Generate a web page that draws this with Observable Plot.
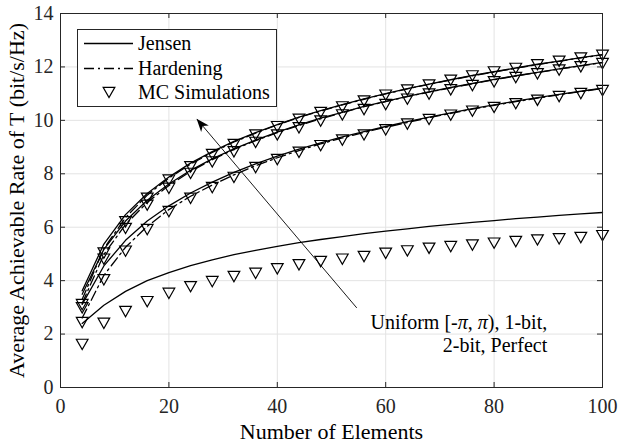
<!DOCTYPE html>
<html><head><meta charset="utf-8">
<script src="https://cdn.jsdelivr.net/npm/d3@7"></script>
<script src="https://cdn.jsdelivr.net/npm/@observablehq/plot@0.6"></script>
<style>
body{margin:0;background:#fff;}
#wrap{position:relative;width:619px;height:445px;font-family:'Liberation Serif','Times New Roman',serif;}
#legend{position:absolute;left:77px;top:29px;}
</style></head><body><div id="wrap"></div>
<script>
// Number of elements
const N = [4,8,12,16,20,24,28,32,36,40,44,48,52,56,60,64,68,72,76,80,84,88,92,96,100];

// Perfect phase
const perfectJensen = [3.62,5.37,6.47,7.26,7.88,8.40,8.83,9.21,9.54,9.84,10.12,10.36,10.59,10.80,11.00,11.19,11.36,11.52,11.68,11.82,11.96,12.10,12.22,12.35,12.46];
const perfectHard   = [3.30,5.20,6.36,7.20,7.84,8.36,8.80,9.19,9.52,9.83,10.11,10.35,10.58,10.79,10.99,11.18,11.35,11.51,11.67,11.81,11.95,12.09,12.21,12.34,12.45];
const perfectMC     = [3.12,5.05,6.22,7.10,7.78,8.28,8.74,9.11,9.47,9.78,10.06,10.31,10.52,10.74,10.96,11.15,11.34,11.52,11.68,11.83,11.96,12.10,12.23,12.35,12.45];
// 2-bit
const twoBitJensen  = [3.49,5.17,6.23,7.01,7.62,8.13,8.56,8.93,9.26,9.56,9.83,10.08,10.30,10.52,10.71,10.90,11.07,11.23,11.38,11.53,11.67,11.80,11.93,12.05,12.17];
const twoBitHard    = [3.15,4.98,6.10,6.93,7.56,8.09,8.53,8.91,9.24,9.54,9.81,10.06,10.29,10.51,10.70,10.89,11.06,11.22,11.37,11.52,11.66,11.79,11.92,12.04,12.16];
const twoBitMC      = [3.00,4.82,5.97,6.84,7.47,8.03,8.46,8.84,9.19,9.47,9.74,9.99,10.22,10.42,10.61,10.81,11.00,11.16,11.32,11.46,11.62,11.76,11.90,12.02,12.14];
// 1-bit
const oneBitJensen  = [3.11,4.55,5.51,6.23,6.80,7.28,7.69,8.05,8.37,8.66,8.92,9.16,9.38,9.58,9.77,9.95,10.12,10.28,10.44,10.58,10.72,10.85,10.97,11.09,11.21];
const oneBitHard    = [2.60,4.20,5.25,6.03,6.66,7.16,7.58,7.96,8.30,8.60,8.87,9.12,9.34,9.55,9.74,9.92,10.10,10.26,10.42,10.56,10.70,10.83,10.96,11.08,11.19];
const oneBitMC      = [2.45,4.05,5.12,5.93,6.60,7.10,7.50,7.88,8.25,8.55,8.82,9.07,9.28,9.47,9.66,9.88,10.05,10.21,10.36,10.50,10.64,10.77,10.91,11.02,11.13];
// Uniform [-pi, pi)
const uniformJensen = [2.40,3.08,3.60,4.00,4.30,4.56,4.78,4.97,5.13,5.28,5.42,5.54,5.65,5.76,5.85,5.94,6.03,6.11,6.18,6.25,6.32,6.38,6.44,6.50,6.55];
const uniformMC     = [1.63,2.42,2.86,3.23,3.54,3.79,3.98,4.17,4.29,4.46,4.61,4.73,4.82,4.92,5.04,5.13,5.23,5.29,5.35,5.42,5.48,5.54,5.58,5.63,5.70];

const xTicks = [0,20,40,60,80,100];
const yTicks = [0,2,4,6,8,10,12,14];
const xLabel = "Number of Elements";
const yLabel = "Average Achievable Rate of T (bit/s/Hz)";
const legendLabels = ["Jensen","Hardening","MC Simulations"];
const annotText = "Uniform [-π, π), 1-bit,\n2-bit, Perfect";
const annotPos = {x: 89.8, y: 2.045};
const arrowPos = {x1: 54.66, y1: 2.98, x2: 25.2, y2: 10.04};

const series = [
  {scheme:"Perfect", method:"Jensen", v:perfectJensen},
  {scheme:"Perfect", method:"Hardening", v:perfectHard},
  {scheme:"Perfect", method:"MC", v:perfectMC},
  {scheme:"2-bit", method:"Jensen", v:twoBitJensen},
  {scheme:"2-bit", method:"Hardening", v:twoBitHard},
  {scheme:"2-bit", method:"MC", v:twoBitMC},
  {scheme:"1-bit", method:"Jensen", v:oneBitJensen},
  {scheme:"1-bit", method:"Hardening", v:oneBitHard},
  {scheme:"1-bit", method:"MC", v:oneBitMC},
  {scheme:"Uniform", method:"Jensen", v:uniformJensen},
  {scheme:"Uniform", method:"MC", v:uniformMC}
];
const rows = series.flatMap(s => s.v.map((v,i) => ({n:N[i], v, scheme:s.scheme, method:s.method})));

const triDown = {
  draw(ctx, size) {
    const r = Math.sqrt(size / Math.PI);
    ctx.moveTo(-1.3*r, -1.05*r);
    ctx.lineTo(1.3*r, -1.05*r);
    ctx.lineTo(0, 1.25*r);
    ctx.closePath();
  }
};

const W = 619, H = 445, mL = 60, mR = 17, mT = 13, mB = 58;
const innerW = W - mL - mR, innerH = H - mT - mB, tk = 5;
const axisColor = "#262626", gridColor = "#e3e3e3";
const serif = "'Liberation Serif','Times New Roman',serif";

const plot = Plot.plot({
  width: W, height: H, marginLeft: mL, marginRight: mR, marginTop: mT, marginBottom: mB,
  style: {fontFamily: serif, fontSize: "20px", color: axisColor, background: "white"},
  x: {domain: [0,100]},
  y: {domain: [0,14]},
  marks: [
    Plot.gridX(xTicks, {stroke: gridColor, strokeOpacity: 1}),
    Plot.gridY(yTicks, {stroke: gridColor, strokeOpacity: 1}),
    Plot.line(rows, {filter: d => d.method === "Jensen", x: "n", y: "v", z: "scheme", stroke: "black", strokeWidth: 1.3}),
    Plot.line(rows, {filter: d => d.method === "Hardening", x: "n", y: "v", z: "scheme", stroke: "black", strokeWidth: 1.3, strokeDasharray: "10,4,2,4"}),
    Plot.dot(rows, {filter: d => d.method === "MC", x: "n", y: "v", symbol: triDown, r: 4.5, stroke: "black", strokeWidth: 1.2, fill: "none"}),
    Plot.link([arrowPos], {x1: "x1", y1: "y1", x2: "x2", y2: "y2", stroke: "black", strokeWidth: 0.9}),
    Plot.text([annotPos], {x: "x", y: "y", text: () => annotText, textAnchor: "end", lineAnchor: "middle", lineHeight: 1.17, fill: "black", fontSize: 20}),
    Plot.tickX(xTicks, {x: d => d, insetTop: innerH - tk, stroke: axisColor}),
    Plot.tickX(xTicks, {x: d => d, insetBottom: innerH - tk, stroke: axisColor}),
    Plot.tickY(yTicks, {y: d => d, insetRight: innerW - tk, stroke: axisColor}),
    Plot.tickY(yTicks, {y: d => d, insetLeft: innerW - tk, stroke: axisColor}),
    Plot.frame({stroke: axisColor}),
    Plot.axisX(xTicks, {tickSize: 0, tickPadding: 11, label: null}),
    Plot.axisY(yTicks, {tickSize: 0, tickPadding: 7, label: null}),
    Plot.text([xLabel], {frameAnchor: "bottom", dy: 44.3, textAnchor: "middle", lineAnchor: "middle", text: d => d, fontSize: 22, fill: "black"}),
    Plot.text([yLabel], {frameAnchor: "left", dx: -43.5, rotate: -90, textAnchor: "middle", lineAnchor: "middle", text: d => d, fontSize: 22, fill: "black"})
  ]
});

// italic pi in annotation
d3.select(plot).selectAll("text").each(function() {
  const targets = this.querySelectorAll("tspan").length ? this.querySelectorAll("tspan") : [this];
  targets.forEach(t => {
    if (t.textContent.includes("π")) {
      t.innerHTML = t.textContent.replace(/π/g, '<tspan font-style="italic">π</tspan>');
    }
  });
});

// filled arrowhead at the tip, placed through the plot's scales
const sx = plot.scale("x"), sy = plot.scale("y");
const ax1 = sx.apply(arrowPos.x1), ay1 = sy.apply(arrowPos.y1);
const ax2 = sx.apply(arrowPos.x2), ay2 = sy.apply(arrowPos.y2);
const ang = Math.atan2(ay2 - ay1, ax2 - ax1) * 180 / Math.PI;
d3.select(plot).append("path")
  .attr("d", "M0,0 L-13,-5 L-9.5,0 L-13,5 Z")
  .attr("fill", "black")
  .attr("transform", `translate(${ax2},${ay2}) rotate(${ang})`);

const wrap = document.getElementById("wrap");
wrap.appendChild(plot);

// legend
const lg = d3.select(wrap).append("svg").attr("id", "legend")
  .attr("width", 201).attr("height", 79);
lg.append("rect").attr("x", 0.5).attr("y", 0.5).attr("width", 199).attr("height", 77)
  .attr("fill", "white").attr("stroke", axisColor);
const rowY = [14.5, 39.5, 63];
lg.append("line").attr("x1", 7).attr("x2", 56).attr("y1", rowY[0]).attr("y2", rowY[0]).attr("stroke", "black").attr("stroke-width", 1.3);
lg.append("line").attr("x1", 7).attr("x2", 56).attr("y1", rowY[1]).attr("y2", rowY[1]).attr("stroke", "black").attr("stroke-width", 1.3).attr("stroke-dasharray", "10,4,2,4");
lg.append("path").attr("d", d3.symbol(triDown, Math.PI * 4.5 * 4.5)()).attr("transform", `translate(32,${rowY[2]})`)
  .attr("fill", "none").attr("stroke", "black").attr("stroke-width", 1.2);
lg.selectAll("text.l").data(legendLabels).join("text")
  .attr("x", 61).attr("y", (d, i) => rowY[i]).attr("dy", "0.34em")
  .attr("font-family", serif).attr("font-size", 20).attr("fill", "black")
  .text(d => d);
</script></body></html>
